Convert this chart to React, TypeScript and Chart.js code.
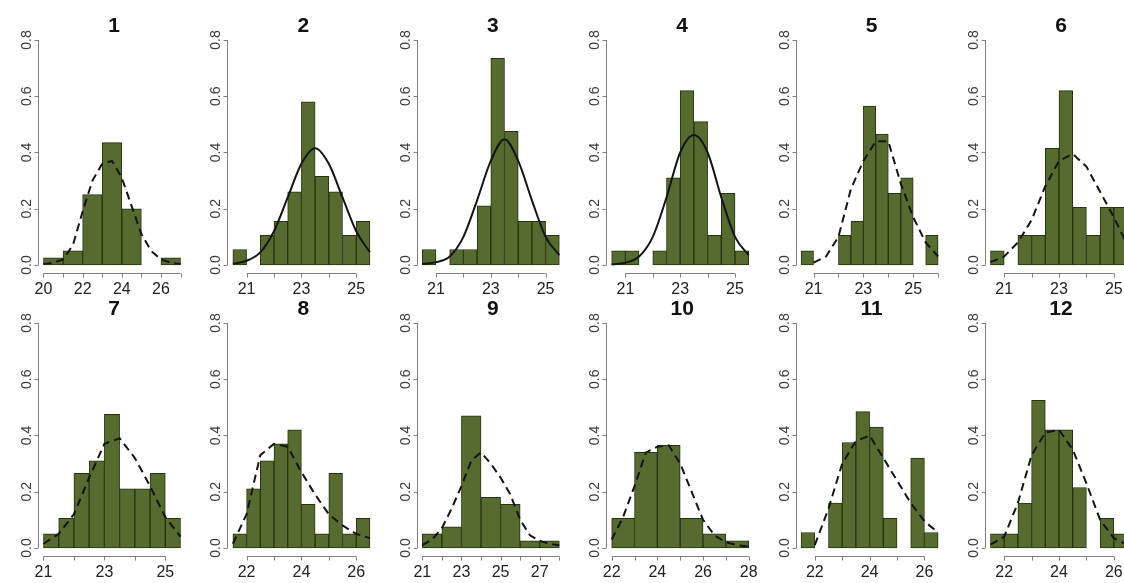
import React, { useEffect, useRef } from 'react';
import { Chart, registerables } from 'chart.js';

Chart.register(...registerables);

// ---------------- data ----------------
const panelTitles = ['1', '2', '3', '4', '5', '6', '7', '8', '9', '10', '11', '12'];
const yTicks = [0, 0.2, 0.4, 0.6, 0.8];
const yTickLabels = ['0.0', '0.2', '0.4', '0.6', '0.8'];

// panel 1
const edges1 = [20, 21, 22, 23, 24, 25, 26, 27];
const density1 = [0.025, 0.05, 0.25, 0.435, 0.2, 0, 0.025];
const curveX1 = [20, 20.5, 21, 21.5, 22, 22.5, 23, 23.5, 24, 24.5, 25, 25.5, 26, 26.5, 27];
const curveY1 = [0.003, 0.008, 0.02, 0.07, 0.19, 0.3, 0.36, 0.37, 0.31, 0.21, 0.11, 0.05, 0.02, 0.008, 0.003];
const xTicks1 = [20, 21, 22, 23, 24, 25, 26, 27];
const xLabels1 = [20, 22, 24, 26];

// panel 2
const edges2 = [20.5, 21, 21.5, 22, 22.5, 23, 23.5, 24, 24.5, 25, 25.5];
const density2 = [0.055, 0, 0.105, 0.155, 0.26, 0.58, 0.315, 0.26, 0.105, 0.155];
const curveX2 = [20.5, 21, 21.5, 22, 22.5, 23, 23.5, 24, 24.5, 25, 25.5];
const curveY2 = [0.004, 0.015, 0.045, 0.12, 0.24, 0.36, 0.415, 0.36, 0.24, 0.12, 0.045];
const xTicks2 = [21, 22, 23, 24, 25];
const xLabels2 = [21, 23, 25];

// panel 3
const edges3 = [20.5, 21, 21.5, 22, 22.5, 23, 23.5, 24, 24.5, 25, 25.5];
const density3 = [0.055, 0, 0.055, 0.055, 0.21, 0.735, 0.475, 0.155, 0.155, 0.105];
const curveX3 = [20.5, 21, 21.5, 22, 22.5, 23, 23.5, 24, 24.5, 25, 25.5];
const curveY3 = [0.003, 0.01, 0.03, 0.1, 0.23, 0.37, 0.447, 0.37, 0.23, 0.1, 0.035];
const xTicks3 = [21, 22, 23, 24, 25];
const xLabels3 = [21, 23, 25];

// panel 4
const edges4 = [20.5, 21, 21.5, 22, 22.5, 23, 23.5, 24, 24.5, 25, 25.5];
const density4 = [0.05, 0.05, 0, 0.05, 0.31, 0.62, 0.51, 0.105, 0.255, 0.05];
const curveX4 = [20.5, 21, 21.5, 22, 22.5, 23, 23.5, 24, 24.5, 25, 25.5];
const curveY4 = [0.002, 0.008, 0.03, 0.1, 0.24, 0.4, 0.462, 0.4, 0.24, 0.1, 0.035];
const xTicks4 = [21, 22, 23, 24, 25];
const xLabels4 = [21, 23, 25];

// panel 5
const edges5 = [20.5, 21, 21.5, 22, 22.5, 23, 23.5, 24, 24.5, 25, 25.5, 26];
const density5 = [0.05, 0, 0, 0.105, 0.155, 0.565, 0.465, 0.255, 0.31, 0, 0.105];
const curveX5 = [21, 21.5, 22, 22.5, 23, 23.5, 24, 24.5, 25, 25.5, 26];
const curveY5 = [0.008, 0.03, 0.1, 0.27, 0.37, 0.44, 0.44, 0.29, 0.17, 0.08, 0.03];
const xTicks5 = [21, 22, 23, 24, 25, 26];
const xLabels5 = [21, 23, 25];

// panel 6
const edges6 = [20.5, 21, 21.5, 22, 22.5, 23, 23.5, 24, 24.5, 25, 25.5];
const density6 = [0.05, 0, 0.105, 0.105, 0.415, 0.62, 0.205, 0.105, 0.205, 0.205];
const curveX6 = [20.5, 21, 21.5, 22, 22.5, 23, 23.5, 24, 24.5, 25, 25.5];
const curveY6 = [0.01, 0.03, 0.08, 0.16, 0.28, 0.37, 0.395, 0.35, 0.26, 0.17, 0.07];
const xTicks6 = [21, 22, 23, 24, 25];
const xLabels6 = [21, 23, 25];

// panel 7
const edges7 = [21, 21.5, 22, 22.5, 23, 23.5, 24, 24.5, 25, 25.5];
const density7 = [0.05, 0.105, 0.265, 0.31, 0.475, 0.21, 0.21, 0.265, 0.105];
const curveX7 = [21, 21.5, 22, 22.5, 23, 23.5, 24, 24.5, 25, 25.5];
const curveY7 = [0.015, 0.05, 0.12, 0.25, 0.37, 0.39, 0.32, 0.22, 0.11, 0.04];
const xTicks7 = [21, 22, 23, 24, 25];
const xLabels7 = [21, 23, 25];

// panel 8
const edges8 = [21.5, 22, 22.5, 23, 23.5, 24, 24.5, 25, 25.5, 26, 26.5];
const density8 = [0.05, 0.21, 0.31, 0.37, 0.42, 0.155, 0.05, 0.265, 0.05, 0.105];
const curveX8 = [21.5, 22, 22.5, 23, 23.5, 24, 24.5, 25, 25.5, 26, 26.5];
const curveY8 = [0.015, 0.12, 0.33, 0.37, 0.36, 0.27, 0.19, 0.12, 0.08, 0.05, 0.035];
const xTicks8 = [22, 23, 24, 25, 26];
const xLabels8 = [22, 24, 26];

// panel 9
const edges9 = [21, 22, 23, 24, 25, 26, 27, 28];
const density9 = [0.05, 0.075, 0.47, 0.18, 0.155, 0.025, 0.025];
const curveX9 = [21, 21.5, 22, 22.5, 23, 23.5, 24, 24.5, 25, 25.5, 26, 26.5, 27, 27.5, 28];
const curveY9 = [0.01, 0.03, 0.07, 0.14, 0.22, 0.31, 0.34, 0.3, 0.25, 0.19, 0.1, 0.045, 0.025, 0.015, 0.01];
const xTicks9 = [21, 22, 23, 24, 25, 26, 27, 28];
const xLabels9 = [21, 23, 25, 27];

// panel 10
const edges10 = [22, 23, 24, 25, 26, 27, 28];
const density10 = [0.105, 0.34, 0.365, 0.105, 0.05, 0.025];
const curveX10 = [22, 22.5, 23, 23.5, 24, 24.5, 25, 25.5, 26, 26.5, 27, 27.5, 28];
const curveY10 = [0.03, 0.11, 0.22, 0.34, 0.36, 0.365, 0.3, 0.2, 0.1, 0.045, 0.02, 0.01, 0.005];
const xTicks10 = [22, 23, 24, 25, 26, 27, 28];
const xLabels10 = [22, 24, 26, 28];

// panel 11
const edges11 = [21.5, 22, 22.5, 23, 23.5, 24, 24.5, 25, 25.5, 26, 26.5];
const density11 = [0.055, 0, 0.16, 0.375, 0.485, 0.43, 0.105, 0, 0.32, 0.055];
const curveX11 = [22, 22.5, 23, 23.5, 24, 24.5, 25, 25.5, 26, 26.5];
const curveY11 = [0.01, 0.14, 0.3, 0.38, 0.4, 0.32, 0.24, 0.16, 0.095, 0.055];
const xTicks11 = [22, 23, 24, 25, 26];
const xLabels11 = [22, 24, 26];

// panel 12
const edges12 = [21.5, 22, 22.5, 23, 23.5, 24, 24.5, 25, 25.5, 26, 26.5];
const density12 = [0.05, 0.05, 0.16, 0.525, 0.42, 0.42, 0.215, 0, 0.105, 0.05];
const curveX12 = [21.5, 22, 22.5, 23, 23.5, 24, 24.5, 25, 25.5, 26, 26.5];
const curveY12 = [0.012, 0.04, 0.16, 0.33, 0.41, 0.42, 0.35, 0.23, 0.1, 0.035, 0.01];
const xTicks12 = [22, 23, 24, 25, 26];
const xLabels12 = [22, 24, 26];

// solid curve (true) or dashed curve (false)
const solidCurve = [false, true, true, true, false, false, false, false, false, false, false, false];

// ---------------- assembling ----------------
type PanelData = {
  title: string;
  edges: number[];
  density: number[];
  curveX: number[];
  curveY: number[];
  xTicks: number[];
  xLabels: number[];
  solid: boolean;
};

const edgesAll = [edges1, edges2, edges3, edges4, edges5, edges6, edges7, edges8, edges9, edges10, edges11, edges12];
const densityAll = [density1, density2, density3, density4, density5, density6, density7, density8, density9, density10, density11, density12];
const curveXAll = [curveX1, curveX2, curveX3, curveX4, curveX5, curveX6, curveX7, curveX8, curveX9, curveX10, curveX11, curveX12];
const curveYAll = [curveY1, curveY2, curveY3, curveY4, curveY5, curveY6, curveY7, curveY8, curveY9, curveY10, curveY11, curveY12];
const xTicksAll = [xTicks1, xTicks2, xTicks3, xTicks4, xTicks5, xTicks6, xTicks7, xTicks8, xTicks9, xTicks10, xTicks11, xTicks12];
const xLabelsAll = [xLabels1, xLabels2, xLabels3, xLabels4, xLabels5, xLabels6, xLabels7, xLabels8, xLabels9, xLabels10, xLabels11, xLabels12];

const panels: PanelData[] = panelTitles.map((title, i) => ({
  title,
  edges: edgesAll[i],
  density: densityAll[i],
  curveX: curveXAll[i],
  curveY: curveYAll[i],
  xTicks: xTicksAll[i],
  xLabels: xLabelsAll[i],
  solid: solidCurve[i],
}));

// ---------------- layout constants ----------------
const COL_STEP = 189.4;
const CANVAS_W = 189;
const CANVAS_H = 300;
const ROW_TOPS = [0, 283];
const PLOT_W = 148;
const PAD_TOP = 31;
const PAD_BOTTOM = 26.6;
const FONT = '"Liberation Sans", Arial, Helvetica, sans-serif';

function Panel({ p, col, row }: { p: PanelData; col: number; row: number }) {
  const ref = useRef<HTMLCanvasElement | null>(null);
  const exactLeft = col * COL_STEP;
  const canvasLeft = Math.round(exactLeft);
  const padLeft = 38 + (exactLeft - canvasLeft);

  useEffect(() => {
    const canvas = ref.current;
    if (!canvas) return;
    const lo = p.edges[0];
    const hi = p.edges[p.edges.length - 1];
    const ext = (hi - lo) * 0.04;

    const bars = p.density.map((d, i) => ({ x: (p.edges[i] + p.edges[i + 1]) / 2, y: d }));
    const curve = p.curveX.map((x, i) => ({ x, y: p.curveY[i] }));

    const rAxes = {
      id: 'rAxes',
      afterDraw(chart: any) {
        const { ctx, chartArea, scales } = chart;
        const xs = scales.x;
        const ys = scales.y;
        ctx.save();
        // y axis
        const ax = Math.round(chartArea.left) + 0.5;
        ctx.strokeStyle = '#808080';
        ctx.lineWidth = 1;
        ctx.beginPath();
        ctx.moveTo(ax, ys.getPixelForValue(yTicks[0]));
        ctx.lineTo(ax, ys.getPixelForValue(yTicks[yTicks.length - 1]));
        yTicks.forEach((v) => {
          const py = Math.round(ys.getPixelForValue(v)) + 0.5;
          ctx.moveTo(ax, py);
          ctx.lineTo(ax - 4, py);
        });
        ctx.stroke();
        ctx.fillStyle = '#3a3a3a';
        ctx.font = `14px ${FONT}`;
        ctx.textAlign = 'center';
        ctx.textBaseline = 'alphabetic';
        yTicks.forEach((v, i) => {
          const py = ys.getPixelForValue(v);
          ctx.save();
          ctx.translate(ax - 8, py);
          ctx.rotate(-Math.PI / 2);
          ctx.fillText(yTickLabels[i], 0, 0);
          ctx.restore();
        });
        // x axis
        const ay = Math.round(chartArea.bottom) + 0.5;
        ctx.beginPath();
        ctx.moveTo(xs.getPixelForValue(p.xTicks[0]), ay);
        ctx.lineTo(xs.getPixelForValue(p.xTicks[p.xTicks.length - 1]), ay);
        p.xTicks.forEach((v) => {
          const px = Math.round(xs.getPixelForValue(v)) + 0.5;
          ctx.moveTo(px, ay);
          ctx.lineTo(px, ay + 4);
        });
        ctx.stroke();
        ctx.fillStyle = '#222';
        ctx.font = `16px ${FONT}`;
        const y0 = ys.getPixelForValue(0);
        p.xLabels.forEach((v) => {
          ctx.fillText(String(v), xs.getPixelForValue(v), y0 + 29);
        });
        // title
        ctx.fillStyle = '#111';
        ctx.font = `bold 21px ${FONT}`;
        ctx.fillText(p.title, (chartArea.left + chartArea.right) / 2 + 2, 32);
        ctx.restore();
      },
    };

    const chart = new Chart(canvas, {
      type: 'bar',
      data: {
        datasets: [
          {
            type: 'line',
            data: curve,
            borderColor: '#141414',
            borderWidth: 2,
            borderDash: p.solid ? [] : [8, 5],
            pointRadius: 0,
            tension: 0,
            cubicInterpolationMode: p.solid ? 'monotone' : 'default',
            fill: false,
            order: 0,
          } as any,
          {
            type: 'bar',
            data: bars,
            backgroundColor: '#556b2f',
            borderColor: '#27320f',
            borderWidth: 1,
            borderSkipped: false,
            barPercentage: 1,
            categoryPercentage: 1,
            grouped: false,
            order: 1,
          } as any,
        ],
      },
      options: {
        responsive: false,
        animation: false,
        events: [],
        layout: {
          padding: {
            left: padLeft,
            right: CANVAS_W - padLeft - PLOT_W,
            top: PAD_TOP,
            bottom: PAD_BOTTOM,
          },
        },
        plugins: {
          legend: { display: false },
          tooltip: { enabled: false },
          title: { display: false },
        },
        scales: {
          x: {
            type: 'linear',
            min: lo - ext,
            max: hi + ext,
            offset: false,
            display: false,
            grid: { offset: false },
            ticks: { stepSize: 1, includeBounds: false },
          },
          y: {
            type: 'linear',
            min: -0.03,
            max: 0.832,
            display: false,
          },
        },
      } as any,
      plugins: [rAxes],
    });
    return () => chart.destroy();
  }, [p, padLeft]);

  return (
    <canvas
      ref={ref}
      width={CANVAS_W}
      height={CANVAS_H}
      style={{
        position: 'absolute',
        left: canvasLeft,
        top: ROW_TOPS[row],
        width: CANVAS_W,
        height: CANVAS_H,
      }}
    />
  );
}

export default function App() {
  return (
    <div
      style={{
        position: 'fixed',
        left: 0,
        top: 0,
        width: 1124,
        height: 583,
        overflow: 'hidden',
        background: '#ffffff',
      }}
    >
      {panels.map((p, i) => (
        <Panel key={p.title} p={p} col={i % 6} row={Math.floor(i / 6)} />
      ))}
    </div>
  );
}
